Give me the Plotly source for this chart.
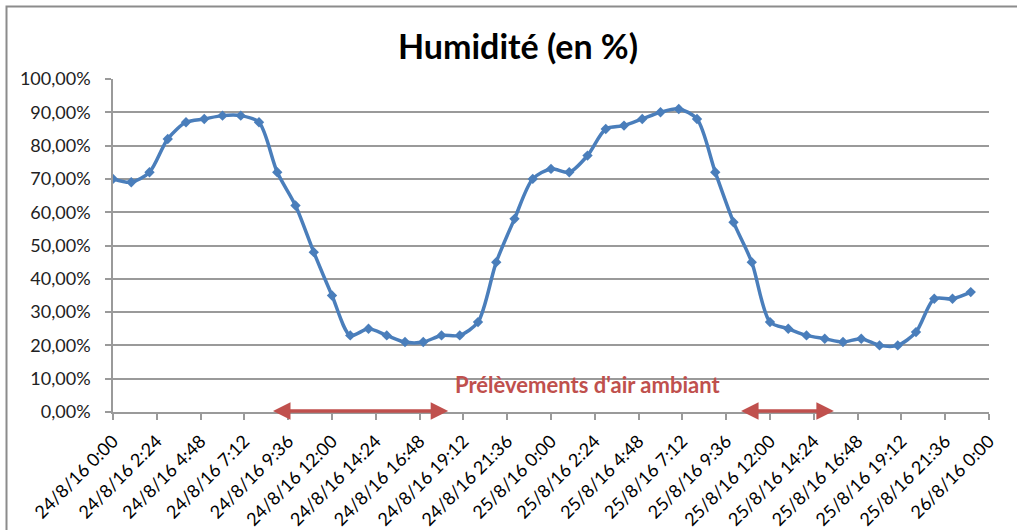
import plotly.graph_objects as go
import pandas as pd

# Hourly humidity readings (%) from 24/8/16 0:00 to 25/8/16 23:00
start = "2016-08-24 00:00"
humidity = [70, 69, 72, 82, 87, 88, 89, 89, 87, 72, 62, 48,
            35, 23, 25, 23, 21, 21, 23, 23, 27, 45, 58, 70,
            73, 72, 77, 85, 86, 88, 90, 91, 88, 72, 57, 45,
            27, 25, 23, 22, 21, 22, 20, 20, 24, 34, 34, 36]
times = pd.date_range(start, periods=len(humidity), freq="h")

x_tick_vals = ["2016-08-24 00:00", "2016-08-24 02:24", "2016-08-24 04:48", "2016-08-24 07:12",
               "2016-08-24 09:36", "2016-08-24 12:00", "2016-08-24 14:24", "2016-08-24 16:48",
               "2016-08-24 19:12", "2016-08-24 21:36", "2016-08-25 00:00", "2016-08-25 02:24",
               "2016-08-25 04:48", "2016-08-25 07:12", "2016-08-25 09:36", "2016-08-25 12:00",
               "2016-08-25 14:24", "2016-08-25 16:48", "2016-08-25 19:12", "2016-08-25 21:36",
               "2016-08-26 00:00"]
x_tick_text = ["24/8/16 0:00", "24/8/16 2:24", "24/8/16 4:48", "24/8/16 7:12", "24/8/16 9:36",
               "24/8/16 12:00", "24/8/16 14:24", "24/8/16 16:48", "24/8/16 19:12", "24/8/16 21:36",
               "25/8/16 0:00", "25/8/16 2:24", "25/8/16 4:48", "25/8/16 7:12", "25/8/16 9:36",
               "25/8/16 12:00", "25/8/16 14:24", "25/8/16 16:48", "25/8/16 19:12", "25/8/16 21:36",
               "26/8/16 0:00"]
y_tick_vals = [0, 10, 20, 30, 40, 50, 60, 70, 80, 90, 100]
y_tick_text = ["0,00%", "10,00%", "20,00%", "30,00%", "40,00%", "50,00%",
               "60,00%", "70,00%", "80,00%", "90,00%", "100,00%"]

# Sampling periods (arrows)
sampling_periods = [("2016-08-24 08:41", "2016-08-24 18:22"),
                    ("2016-08-25 10:20", "2016-08-25 15:30")]
sampling_label = "Prélèvements d'air ambiant"
sampling_label_pos = ("2016-08-25 02:00", 8.3)

blue = "#4A7EBB"
red = "#C0504D"
grid = "#9A9A9A"

fig = go.Figure()
fig.add_trace(go.Scatter(
    x=times, y=humidity, mode="lines+markers",
    line=dict(color=blue, width=3.5, shape="spline", smoothing=0.8),
    marker=dict(symbol="diamond", size=8, color=blue),
    showlegend=False, hoverinfo="x+y"))

annotations = []
for a, b in sampling_periods:
    annotations.append(dict(
        x=b, y=0.3, ax=a, ay=0.3, xref="x", yref="y", axref="x", ayref="y",
        text="", showarrow=True, arrowhead=2, startarrowhead=2, arrowside="end+start",
        arrowsize=1, startarrowsize=1, arrowwidth=3.5, arrowcolor=red,
        standoff=0, startstandoff=0))
annotations.append(dict(
    x=sampling_label_pos[0], y=sampling_label_pos[1], xref="x", yref="y",
    text="<b>" + sampling_label + "</b>", showarrow=False,
    font=dict(family="Lato", size=22, color=red)))

# outer chart frame
plot_l, plot_r, plot_t, plot_b = 113, 989, 79, 411.7
pw, ph = plot_r - plot_l, plot_b - plot_t
shapes = [dict(type="rect", xref="paper", yref="paper",
               x0=(6.5 - plot_l) / pw, x1=(1030 - plot_l) / pw,
               y0=(plot_b - 540) / ph, y1=(plot_b - 6.5) / ph,
               line=dict(color="#8C8C8C", width=2), fillcolor="rgba(0,0,0,0)", layer="below")]

fig.update_layout(
    width=1017, height=530,
    margin=dict(l=plot_l, r=1017 - plot_r, t=plot_t, b=530 - plot_b, pad=0),
    paper_bgcolor="white", plot_bgcolor="white",
    title=dict(text="<b>Humidité (en %)</b>", x=(518 / 1017), xanchor="center",
               y=1 - 47 / 530, yanchor="middle",
               font=dict(family="Lato", size=34, color="black")),
    font=dict(family="Lato", size=18, color="black"),
    annotations=annotations, shapes=shapes,
    xaxis=dict(range=["2016-08-24 00:00", "2016-08-26 00:00"], tickvals=x_tick_vals,
               ticktext=x_tick_text, tickangle=-45, showgrid=False, showline=True,
               linecolor=grid, linewidth=1.5, ticks="outside", ticklen=6, tickcolor=grid,
               tickwidth=1.5, tickfont=dict(family="Lato", size=18, color="black"),
               ticklabelstandoff=4, zeroline=False, automargin=False),
    yaxis=dict(range=[0, 100], tickvals=y_tick_vals, ticktext=y_tick_text,
               showgrid=True, gridcolor=grid, gridwidth=1.5, showline=True,
               linecolor=grid, linewidth=1.5, ticks="outside", ticklen=6, tickcolor=grid,
               tickwidth=1.5, tickfont=dict(family="Lato", size=18, color="#222"),
               ticklabelstandoff=11, zeroline=False, automargin=False),
)

fig.write_html("out.html", config={"displayModeBar": False},
               post_script="document.body.style.margin='0';")
